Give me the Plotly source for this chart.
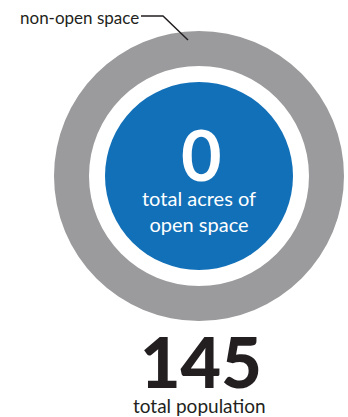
import plotly.graph_objects as go

# Land-use summary
land_use_labels = ["non-open space", "open space"]
land_use_share = [100, 0]          # percent of land area
open_space_acres = 0
total_population = 145

GRAY = "#9b9b9d"
BLUE = "#1170b8"
INK = "#231f20"

W, H = 348, 417
# ring geometry in pixels
cx, cy = 199, 176
r_outer, r_hole, r_disc = 145, 110, 94

fig = go.Figure()

fig.add_trace(go.Pie(
    labels=land_use_labels,
    values=land_use_share,
    hole=r_hole / r_outer,
    marker=dict(colors=[GRAY, BLUE], line=dict(width=0)),
    textinfo="none",
    hoverinfo="label+percent",
    sort=False,
    showlegend=False,
    domain=dict(x=[(cx - r_outer) / W, (cx + r_outer) / W],
                y=[1 - (cy + r_outer) / H, 1 - (cy - r_outer) / H]),
))

# open-space disc
fig.add_shape(type="circle", xref="x", yref="y",
              x0=cx - r_disc, x1=cx + r_disc, y0=cy - r_disc, y1=cy + r_disc,
              fillcolor=BLUE, line=dict(width=0), layer="above")

# leader line for the ring label
fig.add_shape(type="path", xref="x", yref="y",
              path="M 141 16 L 163 16 L 188 40",
              line=dict(color=INK, width=1.5))

fig.add_annotation(x=18, y=17, xref="x", yref="y", text=land_use_labels[0],
                   showarrow=False, xanchor="left", yanchor="middle",
                   font=dict(family="Lato", size=17, color=INK))

fig.add_annotation(x=201, y=154, xref="x", yref="y", text=f"{open_space_acres:,}",
                   showarrow=False, xanchor="center", yanchor="middle",
                   height=62, valign="middle",
                   font=dict(family="Lato", size=70, color="white", weight=700))
fig.add_annotation(x=199, y=211, xref="x", yref="y",
                   text="total acres of<br>open space",
                   showarrow=False, xanchor="center", yanchor="middle",
                   font=dict(family="Lato", size=20, color="white"))

fig.add_annotation(x=201, y=361, xref="x", yref="y", text=f"{total_population:,}",
                   showarrow=False, xanchor="center", yanchor="middle",
                   height=62, valign="middle",
                   font=dict(family="Lato", size=70, color=INK, weight=900))
fig.add_annotation(x=199, y=405, xref="x", yref="y", text="total population",
                   showarrow=False, xanchor="center", yanchor="middle",
                   font=dict(family="Lato", size=19, color=INK))

fig.update_layout(
    width=W, height=H, margin=dict(l=0, r=0, t=0, b=0),
    paper_bgcolor="white", plot_bgcolor="rgba(0,0,0,0)",
    xaxis=dict(range=[0, W], visible=False, fixedrange=True),
    yaxis=dict(range=[H, 0], visible=False, fixedrange=True),
)

fig.write_html("out.html")
